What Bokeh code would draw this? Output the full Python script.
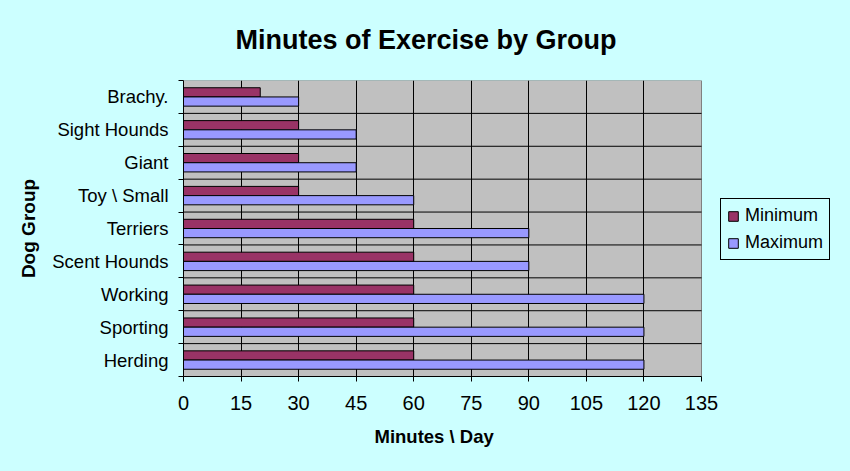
from bokeh.plotting import figure
from bokeh.models import FixedTicker, ColumnDataSource, Legend, LegendItem, Title
from bokeh.transform import dodge
from bokeh.embed import file_html
from bokeh.resources import INLINE

groups = ["Herding", "Sporting", "Working", "Scent Hounds", "Terriers",
          "Toy \\ Small", "Giant", "Sight Hounds", "Brachy."]
minimum = [60, 60, 60, 60, 60, 30, 30, 30, 20]
maximum = [120, 120, 120, 90, 90, 60, 45, 45, 30]
x_ticks = [0, 15, 30, 45, 60, 75, 90, 105, 120, 135]

BG = "#CCFFFF"
PLOT_GRAY = "#C0C0C0"
pos = list(range(len(groups)))
bounds = [i - 0.5 for i in range(len(groups) + 1)]
x_lo, x_hi = x_ticks[0], x_ticks[-1]

W, H = 846, 471
LEFT, RIGHT, TOP, BOTTOM = 183, 8, 80, 95
AXIS_PX = 518  # pixel width of the 0..135 axis
frame_px = W - LEFT - RIGHT
x_max = x_hi * frame_px / AXIS_PX  # extra room on the right holds the legend

src = ColumnDataSource(dict(pos=pos, minimum=minimum, maximum=maximum))
inner = bounds[1:-1]
sep = ColumnDataSource(dict(y=inner, x0=[x_lo] * len(inner), x1=[x_hi] * len(inner)))

p = figure(width=W, height=H, x_range=(x_lo, x_max), y_range=(bounds[0], bounds[-1]),
           output_backend="svg", toolbar_location=None,
           background_fill_color=BG, border_fill_color=BG,
           min_border_left=LEFT, min_border_right=RIGHT,
           min_border_top=TOP, min_border_bottom=BOTTOM)
p.outline_line_color = None

# gray plot area
p.quad(left=[x_lo], right=[x_hi], bottom=[bounds[0]], top=[bounds[-1]],
       fill_color=PLOT_GRAY, line_color="#808080", line_width=1, level="image")
# category separator lines
p.segment(x0="x0", x1="x1", y0="y", y1="y", source=sep, line_color="black",
          line_width=1, level="underlay")

p.title.text = "Minutes of Exercise by Group"
p.title.align = "left"
p.title.offset = 52
p.title.vertical_align = "top"
p.title.text_font = "Liberation Sans"
p.title.text_font_size = "27px"
p.title.text_font_style = "bold"
p.title.text_color = "black"
p.title.standoff = 47

h = 0.28
r_min = p.hbar(y=dodge("pos", 0.14, range=p.y_range), right="minimum", left=0, height=h,
               source=src, fill_color="#993366", line_color="black", line_width=1)
r_max = p.hbar(y=dodge("pos", -0.14, range=p.y_range), right="maximum", left=0, height=h,
               source=src, fill_color="#9999FF", line_color="black", line_width=1)

# x axis
p.xaxis.ticker = FixedTicker(ticks=x_ticks)
p.xaxis.bounds = (x_lo, x_hi)
p.xaxis.axis_line_color = "black"
p.xaxis.major_tick_out = 5
p.xaxis.major_tick_in = 0
p.xaxis.major_tick_line_color = "black"
p.xaxis.minor_tick_line_color = None
p.xaxis.major_label_standoff = 14

# x axis title, centred under the 0..135 axis
xtitle = Title(text="Minutes \\ Day", align="left", offset=191, vertical_align="top",
               text_font="Liberation Sans", text_font_size="18.5px",
               text_font_style="bold", text_color="black", standoff=27)
p.add_layout(xtitle, "below")

# y axis
p.yaxis.ticker = FixedTicker(ticks=pos, minor_ticks=bounds)
p.yaxis.major_label_overrides = {i: g for i, g in zip(pos, groups)}
p.yaxis.axis_label = "Dog Group"
p.yaxis.axis_line_color = "black"
p.yaxis.major_tick_line_color = None
p.yaxis.minor_tick_line_color = "black"
p.yaxis.minor_tick_out = 5
p.yaxis.minor_tick_in = 0
p.yaxis.major_label_standoff = 9
p.yaxis.axis_label_standoff = 10
p.yaxis.axis_label_text_font = "Liberation Sans"
p.yaxis.axis_label_text_font_size = "19px"
p.yaxis.axis_label_text_font_style = "bold"
p.yaxis.axis_label_text_color = "black"

for ax in (p.xaxis[0], p.yaxis[0]):
    ax.major_label_text_font = "Liberation Sans"
    ax.major_label_text_color = "black"
p.xaxis.major_label_text_font_size = "20px"
p.yaxis.major_label_text_font_size = "18.5px"

p.xgrid.ticker = FixedTicker(ticks=x_ticks[1:-1])
p.xgrid.grid_line_color = "black"
p.ygrid.grid_line_color = None

legend = Legend(items=[LegendItem(label="Minimum", renderers=[r_min]),
                       LegendItem(label="Maximum", renderers=[r_max])],
                location=(537, 116), margin=0)
legend.label_text_font = "Liberation Sans"
legend.label_text_font_size = "18px"
legend.label_text_color = "black"
legend.glyph_width = 12
legend.glyph_height = 12
legend.label_height = 20
legend.label_standoff = 6
legend.padding = 6
legend.spacing = 6
legend.background_fill_color = BG
legend.background_fill_alpha = 1
legend.border_line_color = "black"
legend.border_line_alpha = 1
legend.border_line_width = 1
p.add_layout(legend)

html = file_html(p, INLINE)
html = html.replace("</head>", "<style>body{background:#CCFFFF;}</style></head>", 1)
open("out.html", "w").write(html)
